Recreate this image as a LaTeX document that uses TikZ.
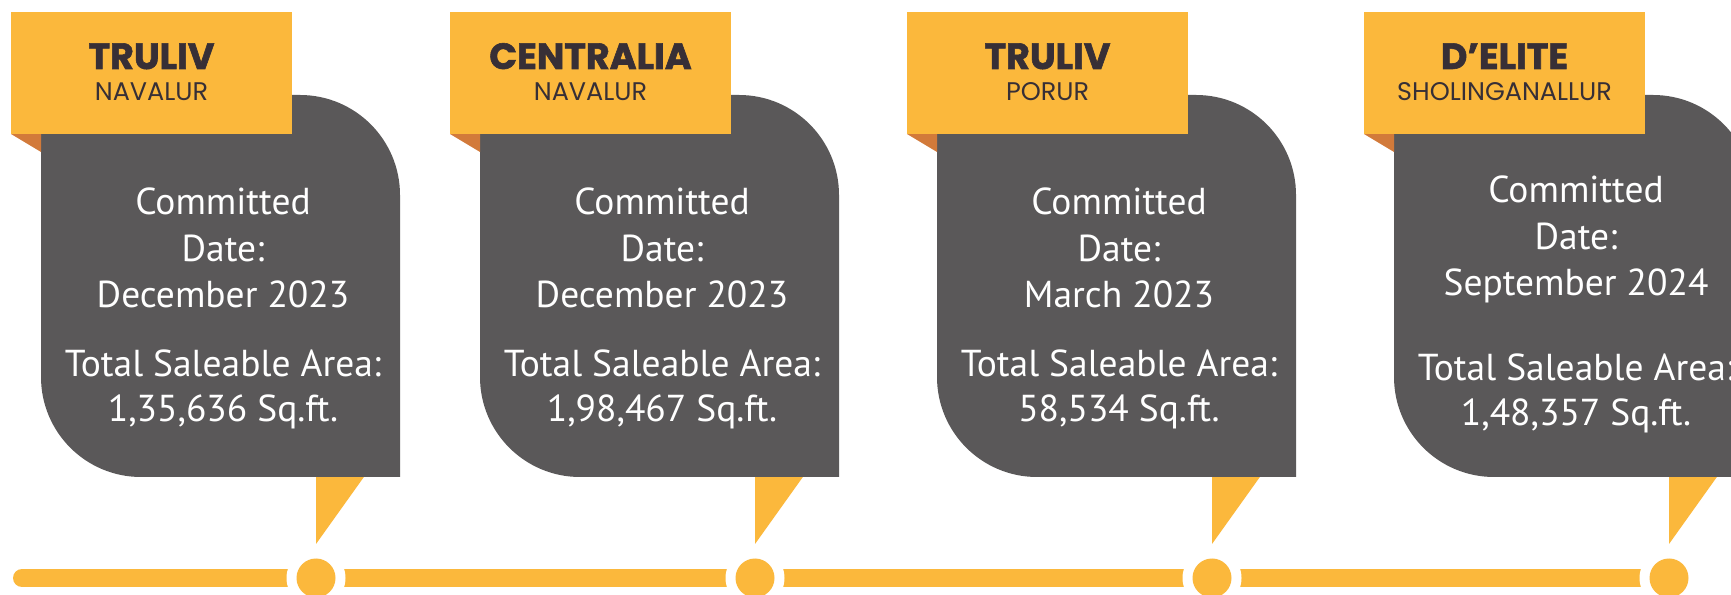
\documentclass[tikz,border=0pt]{standalone}
\usepackage{fontspec}
\setmainfont{PT Sans}
\newfontfamily\titlefont{Poppins}[BoldFeatures={FakeBold=1.6}]
\definecolor{tlyellow}{HTML}{FBB83C}
\definecolor{cardgray}{HTML}{5A5859}
\definecolor{foldorange}{HTML}{D27A3A}
\definecolor{titledark}{HTML}{372F36}
\begin{document}
\begin{tikzpicture}[x=1pt,y=1pt,
  bodytext/.style={text=white, font=\fontsize{37.5}{42}\selectfont, anchor=base, inner sep=0pt},
  titletext/.style={text=titledark, font=\titlefont\bfseries\fontsize{36.5}{40}\selectfont, anchor=base, inner sep=0pt},
  subtext/.style={text=titledark, font=\titlefont\fontsize{25.5}{28}\selectfont, anchor=base, inner sep=0pt},
  halo/.style={fill=white},
  dot/.style={fill=tlyellow}]
\useasboundingbox (0,0) rectangle (1731,594);
\fill[white] (0,0) rectangle (1731,594);
\clip (0,0) rectangle (1731,594);
% timeline bar
\coordinate (barstart) at (22,16);
\coordinate (barend) at (1669,16);
\draw[tlyellow, line width=18pt, line cap=round] (barstart) -- (barend);
\foreach \i/\H/\L/\ttl/\sub/\dte/\area/\ya/\yb in {
  1/11/41/TRULIV/NAVALUR/{December 2023}/{1,35,636 Sq.ft.}/379/217,
  2/450/480/CENTRALIA/NAVALUR/{December 2023}/{1,98,467 Sq.ft.}/379/217,
  3/907/937/TRULIV/PORUR/{March 2023}/{58,534 Sq.ft.}/379/217,
  4/1364/1394/{D’ELITE}/SHOLINGANALLUR/{September 2024}/{1,48,357 Sq.ft.}/391/213}{
  % timeline marker
  \fill[halo] (\L+275,16) circle[radius=29.5];
  \node[dot, circle, minimum size=39pt, inner sep=0pt] (dot\i) at (\L+275,16) {};
  % pointer
  \fill[tlyellow] (\L+275,120) -- (\L+325,120) -- (\L+275,50) -- cycle;
  % card body
  \fill[cardgray] (\L,499) -- (\L+259,499) arc[start angle=90,end angle=0,radius=100]
     -- (\L+359,117) -- (\L+100,117) arc[start angle=270,end angle=180,radius=100] -- cycle;
  % header fold and header
  \fill[foldorange] (\H,460) -- (\L,460) -- (\L,442) -- cycle;
  \fill[tlyellow] (\H,460) rectangle (\H+281,582);
  \node[titletext] (title\i) at (\H+140.5,525) {\ttl};
  \node[subtext] (sub\i) at (\H+140.5,493) {\sub};
  % body text
  \node[bodytext] (ca\i) at (\L+182,\ya) {Committed};
  \node[bodytext] (cb\i) at (\L+182,\ya-47) {Date:};
  \node[bodytext] (cc\i) at (\L+182,\ya-93) {\dte};
  \node[bodytext] (ta\i) at (\L+182,\yb) {Total Saleable Area:};
  \node[bodytext] (tb\i) at (\L+182,\yb-45) {\area};
}
\end{tikzpicture}
\end{document}
